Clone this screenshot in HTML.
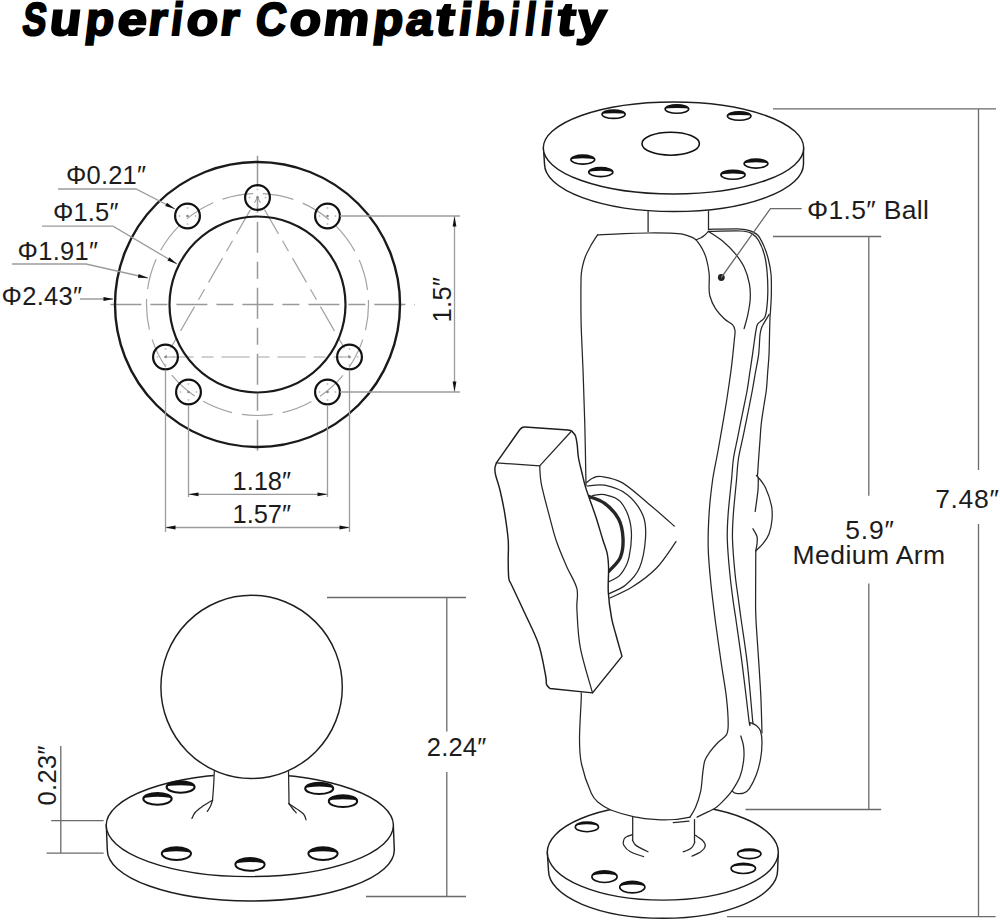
<!DOCTYPE html>
<html><head><meta charset="utf-8"><style>
html,body{margin:0;padding:0;background:#fff;}
#c{position:relative;width:1000px;height:921px;overflow:hidden;background:#fff;}
svg{position:absolute;left:0;top:0;}
text{font-family:"Liberation Sans",sans-serif;fill:#1c1c1c;}
.o{fill:none;stroke:#111;stroke-width:2;}
.t{fill:none;stroke:#262626;stroke-width:1.25;stroke-linecap:round;stroke-linejoin:round;}
.tf{fill:#fff;stroke:#1e1e1e;stroke-width:1.45;stroke-linejoin:round;}
.d{fill:none;stroke:#6a6a6a;stroke-width:1.3;}
.d2{fill:none;stroke:#9c9c9c;stroke-width:1.3;}
.cl{fill:none;stroke:#999;stroke-width:1.5;stroke-dasharray:31 11 12 11;}
.ds{fill:none;stroke:#a3a3a3;stroke-width:1.2;stroke-dasharray:14 8;}
.h{fill:#fff;stroke:#111;stroke-width:1.3;}
.hs{fill:none;stroke:#111;stroke-linecap:round;}
.ar{fill:#111;stroke:none;}
</style></head><body><div id="c">
<svg width="1000" height="921" viewBox="0 0 1000 921">

<g font-size="46" font-weight="bold" style="fill:#000;stroke:#000;stroke-width:2.2">
<text transform="translate(21.20 35.1) skewX(-7) scale(0.768 1)" style="fill:#000">S</text>
<text transform="translate(48.29 35.1) skewX(-7) scale(1.117 1)" style="fill:#000">u</text>
<text transform="translate(84.04 35.1) skewX(-7) scale(1.016 1)" style="fill:#000">p</text>
<text transform="translate(116.34 35.1) skewX(-7) scale(1.137 1)" style="fill:#000">e</text>
<text transform="translate(146.98 35.1) skewX(-7) scale(1.026 1)" style="fill:#000">r</text>
<text transform="translate(169.74 35.1) skewX(-7) scale(0.886 1)" style="fill:#000">i</text>
<text transform="translate(185.36 35.1) skewX(-7) scale(1.115 1)" style="fill:#000">o</text>
<text transform="translate(219.04 35.1) skewX(-7) scale(1.024 1)" style="fill:#000">r</text>
<text transform="translate(254.24 35.1) skewX(-7) scale(0.911 1)" style="fill:#000">C</text>
<text transform="translate(288.34 35.1) skewX(-7) scale(1.113 1)" style="fill:#000">o</text>
<text transform="translate(321.95 35.1) skewX(-7) scale(1.119 1)" style="fill:#000">m</text>
<text transform="translate(371.96 35.1) skewX(-7) scale(1.054 1)" style="fill:#000">p</text>
<text transform="translate(404.86 35.1) skewX(-7) scale(1.043 1)" style="fill:#000">a</text>
<text transform="translate(434.51 35.1) skewX(-7) scale(1.179 1)" style="fill:#000">t</text>
<text transform="translate(457.51 35.1) skewX(-7) scale(0.981 1)" style="fill:#000">i</text>
<text transform="translate(473.92 35.1) skewX(-7) scale(1.036 1)" style="fill:#000">b</text>
<text transform="translate(508.09 35.1) skewX(-7) scale(0.710 1)" style="fill:#000">i</text>
<text transform="translate(523.85 35.1) skewX(-7) scale(0.804 1)" style="fill:#000">l</text>
<text transform="translate(539.62 35.1) skewX(-7) scale(0.898 1)" style="fill:#000">i</text>
<text transform="translate(555.72 35.1) skewX(-7) scale(1.161 1)" style="fill:#000">t</text>
<text transform="translate(575.88 35.1) skewX(-7) scale(1.093 1)" style="fill:#000">y</text>
</g>
<g id="plate">
<line class="cl" x1="102" y1="304.5" x2="415" y2="304.5" style="stroke-dasharray:31 9 17 9;stroke-dashoffset:-8.4"/>
<line class="cl" x1="257.5" y1="148" x2="257.5" y2="453" style="stroke-dasharray:31 9 17 9;stroke-dashoffset:-7.7"/>
<circle class="ds" cx="257.5" cy="304.5" r="111" style="stroke-dasharray:31 10.02;stroke-dashoffset:5.24"/>
<line class="ds" x1="165.5" y1="357" x2="349.5" y2="357" style="stroke-dasharray:28 8 12 8"/>
<path class="ds" d="M257.5 197.5 L165.5 357 M257.5 197.5 L349.5 357" style="stroke-dasharray:28 8 12 8;stroke-dashoffset:-14"/>
<circle class="o" cx="257.5" cy="304.5" r="142.5" style="stroke-width:2.4;stroke:#1a1a1a"/>
<circle class="o" cx="257.5" cy="304.5" r="88" style="stroke-width:2.2;stroke:#1a1a1a"/>
<g class="o" style="stroke-width:2.2;fill:none">
<circle cx="257.5" cy="197.5" r="12.4"/>
<circle cx="187.5" cy="216.0" r="12.4"/>
<circle cx="327.5" cy="216.0" r="12.4"/>
<circle cx="165.5" cy="357.0" r="12.4"/>
<circle cx="349.5" cy="357.0" r="12.4"/>
<circle cx="188.5" cy="392.0" r="12.4"/>
<circle cx="327.5" cy="392.0" r="12.4"/>
</g>
<g fill="#888" stroke="none">
<circle cx="257.5" cy="197.5" r="1.3"/>
<rect x="256.7" y="188.7" width="1.6" height="1.6" fill="#bbb"/>
<rect x="256.7" y="204.7" width="1.6" height="1.6" fill="#bbb"/>
<rect x="248.7" y="196.7" width="1.6" height="1.6" fill="#bbb"/>
<rect x="264.7" y="196.7" width="1.6" height="1.6" fill="#bbb"/>
<circle cx="187.5" cy="216.0" r="1.3"/>
<rect x="186.7" y="207.2" width="1.6" height="1.6" fill="#bbb"/>
<rect x="186.7" y="223.2" width="1.6" height="1.6" fill="#bbb"/>
<rect x="178.7" y="215.2" width="1.6" height="1.6" fill="#bbb"/>
<rect x="194.7" y="215.2" width="1.6" height="1.6" fill="#bbb"/>
<circle cx="327.5" cy="216.0" r="1.3"/>
<rect x="326.7" y="207.2" width="1.6" height="1.6" fill="#bbb"/>
<rect x="326.7" y="223.2" width="1.6" height="1.6" fill="#bbb"/>
<rect x="318.7" y="215.2" width="1.6" height="1.6" fill="#bbb"/>
<rect x="334.7" y="215.2" width="1.6" height="1.6" fill="#bbb"/>
<circle cx="165.5" cy="357.0" r="1.3"/>
<rect x="164.7" y="348.2" width="1.6" height="1.6" fill="#bbb"/>
<rect x="164.7" y="364.2" width="1.6" height="1.6" fill="#bbb"/>
<rect x="156.7" y="356.2" width="1.6" height="1.6" fill="#bbb"/>
<rect x="172.7" y="356.2" width="1.6" height="1.6" fill="#bbb"/>
<circle cx="349.5" cy="357.0" r="1.3"/>
<rect x="348.7" y="348.2" width="1.6" height="1.6" fill="#bbb"/>
<rect x="348.7" y="364.2" width="1.6" height="1.6" fill="#bbb"/>
<rect x="340.7" y="356.2" width="1.6" height="1.6" fill="#bbb"/>
<rect x="356.7" y="356.2" width="1.6" height="1.6" fill="#bbb"/>
<circle cx="188.5" cy="392.0" r="1.3"/>
<rect x="187.7" y="383.2" width="1.6" height="1.6" fill="#bbb"/>
<rect x="187.7" y="399.2" width="1.6" height="1.6" fill="#bbb"/>
<rect x="179.7" y="391.2" width="1.6" height="1.6" fill="#bbb"/>
<rect x="195.7" y="391.2" width="1.6" height="1.6" fill="#bbb"/>
<circle cx="327.5" cy="392.0" r="1.3"/>
<rect x="326.7" y="383.2" width="1.6" height="1.6" fill="#bbb"/>
<rect x="326.7" y="399.2" width="1.6" height="1.6" fill="#bbb"/>
<rect x="318.7" y="391.2" width="1.6" height="1.6" fill="#bbb"/>
<rect x="334.7" y="391.2" width="1.6" height="1.6" fill="#bbb"/>
</g></g>
<g class="d2">
<path d="M340 216 H460 M340 392 H460 M454.5 216 V392"/>
<path d="M165.5 370 V532 M349.5 370 V532 M165.5 527.5 H349.5"/>
<path d="M188.5 405 V497 M327.5 405 V497 M188.5 494.3 H327.5"/>
<path d="M58 189 H136 L175 209"/>
<path d="M42 226.2 H113 L177 264"/>
<path d="M12 264 H86 L148 278"/>
<path d="M80 299 H113"/>
</g>
<g class="ar">
<path d="M454.5 216.5 L456.4 226.5 L452.6 226.5 Z"/>
<path d="M454.5 391.5 L452.6 381.5 L456.4 381.5 Z"/>
<path d="M165.5 527.5 L175.5 525.6 L175.5 529.4 Z"/>
<path d="M349.5 527.5 L339.5 529.4 L339.5 525.6 Z"/>
<path d="M188.5 494.3 L198.5 492.4 L198.5 496.2 Z"/>
<path d="M327.5 494.3 L317.5 496.2 L317.5 492.4 Z"/>
<path d="M175.0 209.0 L165.2 206.1 L167.0 202.7 Z"/>
<path d="M177.0 264.0 L167.4 260.6 L169.4 257.3 Z"/>
<path d="M148.0 278.0 L137.8 277.7 L138.7 273.9 Z"/>
<path d="M113.5 299.0 L103.5 300.9 L103.5 297.1 Z"/>
</g>
<g font-size="25.5">
<text x="66" y="184.3" textLength="80">Φ0.21″</text>
<text x="53" y="221.2" textLength="65.5">Φ1.5″</text>
<text x="17.5" y="260.2" textLength="80.5">Φ1.91″</text>
<text x="1.5" y="305" textLength="80.5">Φ2.43″</text>
<text x="232.5" y="489.5" textLength="58.5">1.18″</text>
<text x="232.5" y="523" textLength="58.5">1.57″</text>
<text transform="translate(450.5 322.5) rotate(-90)" textLength="45.5">1.5″</text>
</g>
<g id="ballbase">
<path class="tf" d="M106.3 825 L107.3 850 A143.5 51 0 0 0 394.3 850 L393.3 825 Z"/>
<ellipse class="tf" cx="249.8" cy="825.3" rx="143.6" ry="51.3"/>
<ellipse class="h" cx="180.6" cy="787.0" rx="14.0" ry="5.7" style="stroke-width:2.0"/><path fill="#111" d="M166.6 787.0 A14.0 5.7 0 0 1 194.6 787.0 A14.0 1.8 0 0 0 166.6 787.0 Z"/>
<ellipse class="h" cx="157.5" cy="798.8" rx="14.2" ry="5.9" style="stroke-width:2.0"/><path fill="#111" d="M143.3 798.8 A14.2 5.9 0 0 1 171.7 798.8 A14.2 2.0 0 0 0 143.3 798.8 Z"/>
<ellipse class="h" cx="319.2" cy="788.4" rx="14.0" ry="5.7" style="stroke-width:2.0"/><path fill="#111" d="M305.2 788.4 A14.0 5.7 0 0 1 333.2 788.4 A14.0 1.8 0 0 0 305.2 788.4 Z"/>
<ellipse class="h" cx="343.0" cy="801.2" rx="14.2" ry="5.9" style="stroke-width:2.0"/><path fill="#111" d="M328.8 801.2 A14.2 5.9 0 0 1 357.2 801.2 A14.2 2.0 0 0 0 328.8 801.2 Z"/>
<ellipse class="h" cx="176.4" cy="853.6" rx="14.6" ry="6.3" style="stroke-width:2.0"/><path fill="#111" d="M161.8 853.6 A14.6 6.3 0 0 1 191.0 853.6 A14.6 2.4 0 0 0 161.8 853.6 Z"/>
<ellipse class="h" cx="250.0" cy="864.4" rx="14.6" ry="6.3" style="stroke-width:2.0"/><path fill="#111" d="M235.4 864.4 A14.6 6.3 0 0 1 264.6 864.4 A14.6 2.4 0 0 0 235.4 864.4 Z"/>
<ellipse class="h" cx="323.0" cy="853.6" rx="14.6" ry="6.3" style="stroke-width:2.0"/><path fill="#111" d="M308.4 853.6 A14.6 6.3 0 0 1 337.6 853.6 A14.6 2.4 0 0 0 308.4 853.6 Z"/>
<path d="M214.3 766 L288.5 766 L289.2 804 L212.5 801 Z" fill="#fff"/>
<path class="t" d="M214.3 771 C214.2 773.5 213.9 781.1 213.6 786 C213.3 790.9 212.7 797.8 212.5 800.2"/>
<path class="t" d="M212.5 800.2 C210.9 801.2 205.8 804 203 806 C200.2 808 197.3 809.9 195.5 812 C193.7 814.1 192.5 817.3 191.9 818.4"/>
<path class="t" d="M212.5 800.2 C212.2 801.2 211.5 804.1 210.6 806 C209.7 807.9 207.9 810.5 207.3 811.4"/>
<path class="t" d="M288.5 771.5 C288.6 774.2 288.7 782.6 288.8 788 C288.9 793.4 289 801.1 289 803.7"/>
<path class="t" d="M289 803.7 C290.6 804.8 296 808.2 298.5 810 C301 811.8 302.8 812.9 304 814.5 C305.2 816.1 305.7 818.9 306 819.8"/>
<path class="t" d="M289 803.7 C289.6 804.5 291.3 807 292.5 808.5 C293.7 810 295.6 812.1 296.2 812.8"/>
<ellipse class="tf" cx="251.6" cy="686.9" rx="90.7" ry="91.6"/>
</g>
<g class="d">
<path d="M327 597.5 H466 M366 896.5 H466 M446.8 597.5 V731.5 M446.8 772 V896.5"/>
<path d="M51.2 820.7 H103.6 M46.6 853.1 H103.6 M60.8 746 V853.4"/>
</g>
<g font-size="25.5">
<text x="426.8" y="755.8" textLength="59.4">2.24″</text>
<text transform="translate(55.5 805.4) rotate(-90)" textLength="60">0.23″</text>
</g>
<g id="arm">
<path class="tf" d="M543.5 148 L544.5 164 A129.5 47.5 0 0 0 803.5 164 L803.5 148 Z"/>
<ellipse class="tf" cx="673.5" cy="148" rx="130.2" ry="46"/>
<ellipse class="h" cx="613.6" cy="114.2" rx="11.6" ry="4.2" style="stroke-width:1.6"/><path fill="#111" d="M602.0 114.2 A11.6 4.2 0 0 1 625.2 114.2 A11.6 1.0 0 0 0 602.0 114.2 Z"/>
<ellipse class="h" cx="676.9" cy="109.0" rx="11.8" ry="4.3" style="stroke-width:1.6"/><path fill="#111" d="M665.1 109.0 A11.8 4.3 0 0 1 688.7 109.0 A11.8 1.1 0 0 0 665.1 109.0 Z"/>
<ellipse class="h" cx="739.2" cy="116.0" rx="11.8" ry="4.3" style="stroke-width:1.6"/><path fill="#111" d="M727.4 116.0 A11.8 4.3 0 0 1 751.0 116.0 A11.8 1.1 0 0 0 727.4 116.0 Z"/>
<ellipse class="h" cx="582.8" cy="159.6" rx="11.9" ry="4.5" style="stroke-width:1.6"/><path fill="#111" d="M570.9 159.6 A11.9 4.5 0 0 1 594.7 159.6 A11.9 1.3 0 0 0 570.9 159.6 Z"/>
<ellipse class="h" cx="600.8" cy="172.1" rx="12.1" ry="4.5" style="stroke-width:1.6"/><path fill="#111" d="M588.7 172.1 A12.1 4.5 0 0 1 612.9 172.1 A12.1 1.3 0 0 0 588.7 172.1 Z"/>
<ellipse class="h" cx="756.0" cy="163.6" rx="11.9" ry="4.5" style="stroke-width:1.6"/><path fill="#111" d="M744.1 163.6 A11.9 4.5 0 0 1 767.9 163.6 A11.9 1.3 0 0 0 744.1 163.6 Z"/>
<ellipse class="h" cx="733.0" cy="174.8" rx="12.1" ry="4.5" style="stroke-width:1.6"/><path fill="#111" d="M720.9 174.8 A12.1 4.5 0 0 1 745.1 174.8 A12.1 1.3 0 0 0 720.9 174.8 Z"/>
<ellipse class="h" cx="670.7" cy="143.7" rx="28.7" ry="11.5" style="stroke-width:1.6"/>
<path class="t" d="M648.1 211.5 V232 M708.5 211 V231.5"/>
<path class="tf" d="M547.3 852.3 L548.5 870.5 A114.5 47.8 0 0 0 777.6 870.5 L778.3 852.3 Z"/>
<ellipse class="tf" cx="662.8" cy="852.3" rx="115.5" ry="47.8"/>
<ellipse class="h" cx="586.9" cy="826.9" rx="11.6" ry="4.8" style="stroke-width:1.6"/><path fill="#111" d="M575.3 826.9 A11.6 4.8 0 0 1 598.5 826.9 A11.6 2.6 0 0 0 575.3 826.9 Z"/>
<ellipse class="h" cx="604.5" cy="876.7" rx="12.6" ry="5.8" style="stroke-width:1.6"/><path fill="#111" d="M591.9 876.7 A12.6 5.8 0 0 1 617.1 876.7 A12.6 2.6 0 0 0 591.9 876.7 Z"/>
<ellipse class="h" cx="632.3" cy="887.1" rx="12.6" ry="5.8" style="stroke-width:1.6"/><path fill="#111" d="M619.7 887.1 A12.6 5.8 0 0 1 644.9 887.1 A12.6 2.6 0 0 0 619.7 887.1 Z"/>
<ellipse class="h" cx="749.3" cy="853.8" rx="11.7" ry="4.8" style="stroke-width:1.6"/><path fill="#111" d="M737.6 853.8 A11.7 4.8 0 0 1 761.0 853.8 A11.7 2.6 0 0 0 737.6 853.8 Z"/>
<ellipse class="h" cx="743.3" cy="868.4" rx="12.2" ry="5.1" style="stroke-width:1.6"/><path fill="#111" d="M731.1 868.4 A12.2 5.1 0 0 1 755.5 868.4 A12.2 2.9 0 0 0 731.1 868.4 Z"/>
<path class="tf" d="M632.7 816 L632.2 838.5 C636 846 641 849 646 851 L680 854.5 C688 852 693.5 847 694.8 842 L694.5 818 Z" style="stroke:none"/>
<path class="t" d="M632.7 816.5 V840 M694.5 819.5 V842.2"/>
<path class="t" d="M632.4 840 C632.8 840.8 633.9 843.3 635 844.5 C636.1 845.7 637 846.2 639.2 847.4 C641.4 848.6 646.5 851.1 648 851.8"/>
<path class="t" d="M694.8 842.2 C694.3 843.1 693.2 846.1 692 847.4 C690.8 848.7 689 849.5 687.5 850.2 C686 850.9 683.9 851.5 683.2 851.8"/>
<path class="t" d="M632.2 834.6 C631.2 835 627.9 835.9 626.5 836.8 C625.1 837.6 624.2 838.3 623.8 839.7 C623.3 841.1 622.7 843.2 623.8 845.2 C624.9 847.2 627.1 849.9 630.4 851.8 C633.7 853.7 641.4 855.8 643.6 856.6"/>
<path class="t" d="M695.3 835.3 C696.6 836.2 701.4 839 703 840.8 C704.6 842.6 705.6 844.5 705.2 846.3 C704.8 848.1 703 850.1 700.8 851.8 C698.6 853.4 693.5 855.5 692 856.2"/>
<path class="t" d="M673.3 822.7 L689 821.1"/>
<path d="M581.2 290 C581.2 272 581.8 271.5 583.2 263.8 C584.6 256.1 587.4 248.8 589.8 244 C592.2 239.2 588 236.8 597.5 234.8 C607 232.9 628.5 233.2 647 232.3 C665.5 231.4 691.5 229.7 708.4 229.4 C725.3 229.1 739.4 227.6 748.6 230.3 C757.8 233 760 238.4 763.8 245.8 C767.5 253.2 770 263.8 771.1 274.7 C772.2 285.6 771.1 298.4 770.5 311 C769.9 323.6 769.6 328.9 767.6 350 C765.6 371.1 760.2 416.5 758.3 437.4 C756.4 458.3 754.1 461.8 756.4 475.5 C758.7 489.2 772.1 507.2 772 519.7 C771.9 532.2 758.5 537.3 755.8 550.8 C753.1 564.3 755.1 572.3 755.9 600.9 C756.7 629.5 759.4 699 760.4 722.6 C761.4 746.2 762.7 733.6 762 742.3 C761.3 751 759.4 766.3 756.3 774.8 C753.2 783.3 747.6 790.4 743.6 793.1 C739.6 795.8 735.6 789.8 732.3 791 C729 792.2 726.7 797.4 723.9 800.2 C721.1 803 718.7 805.7 715.4 807.9 C712.1 810.1 708.3 812.1 704.1 813.6 C699.9 815.1 697.7 816.1 690 817.1 C682.3 818.1 667 819.8 657.7 819.7 C648.4 819.7 642.1 818.4 634.3 816.8 C626.5 815.2 616.7 812.3 610.8 810 C604.9 807.7 602.4 805.9 599.1 803.1 C595.9 800.3 594.2 799.8 591.3 793.3 C588.4 786.8 583.5 773.1 581.5 764 C579.5 754.9 579.5 750.4 579.5 738.6 C579.5 726.8 580.1 735.1 581.2 693 C582.3 650.9 585.7 539.5 586 486 C586.3 432.5 583.9 404.7 583.1 372 C582.3 339.3 581.2 308 581.2 290Z" fill="#fff" stroke="none"/>
<path class="t" d="M586 486 C585.8 475.7 585.3 443 584.8 424 C584.3 405 583.7 387.7 583.1 372 C582.5 356.3 581.7 342 581.3 330 C580.9 318 580.9 308.9 580.9 300 C580.9 291.1 580.9 282 581.1 276.5 C581.4 271 581.7 270.2 582.4 266.9 C583.1 263.6 584 260 585.4 256.5 C586.8 253 588.6 249.6 590.6 246 C592.6 242.4 596.4 236.7 597.6 234.8"/>
<path class="t" d="M597.6 234.8 C601.9 234.6 615.2 233.9 623.6 233.6 C632 233.3 640.3 233.1 648 233 C655.7 232.9 664.1 233 670 233.2 C675.9 233.4 679.7 233.6 683.4 234.3 C687.1 235 690 236.5 692.1 237.4 C694.2 238.3 695.6 239.6 696.3 240"/>
<path class="t" d="M696.5 239.6 C697.2 239.3 699.1 238.7 700.5 238 C701.9 237.3 703.3 236.3 704.6 235.2 C705.9 234.1 707.8 232 708.4 231.4"/>
<path class="t" d="M696.3 240 C697.2 241.4 700.4 245.4 702 248.4 C703.6 251.4 704.9 253.8 706.1 257.9 C707.3 262 708.6 268.4 709.1 273.2 C709.6 278 709 283.1 709.1 286.9 C709.2 290.7 708.9 292.4 709.9 296 C710.9 299.6 712.8 304.4 715.2 308.2 C717.6 312 721.4 316 724.3 318.8 C727.2 321.6 730.9 322.9 732.7 324.9 C734.5 326.8 734.7 328 735 330.5 C735.3 333 734.7 335.9 734.3 340 C733.9 344.1 733.4 349.6 732.8 355 C732.2 360.4 731.7 365.4 730.8 372.1 C729.9 378.8 728.6 387.5 727.5 395 C726.4 402.5 725.5 407.7 723.9 417.2 C722.3 426.7 719.7 441.5 717.8 452 C715.9 462.5 714 469.8 712.6 480 C711.2 490.2 709.8 502 709.1 513.4 C708.4 524.8 707.9 536.5 708.2 548.1 C708.5 559.7 709.6 570.8 710.8 582.8 C712 594.8 713.5 606.6 715.2 620 C717 633.4 719.4 650.4 721.3 663.4 C723.2 676.4 725.4 688 726.5 698.1 C727.6 708.2 728.2 718.1 728.2 724.2 C728.2 730.3 728.2 731.6 726.5 734.6 C724.8 737.6 721 739.4 718.2 742.3 C715.4 745.2 711.9 749.1 709.7 752.2 C707.5 755.3 706 757.2 704.8 760.7 C703.6 764.2 703.4 768.2 702.7 773.4 C702 778.6 701.8 786.1 700.6 791.7 C699.4 797.3 697.4 803 695.6 807.2 C693.8 811.4 690.9 815.5 690 817.1"/>
<path class="t" d="M690 817.1 C687.5 817.5 680.4 819.1 675 819.5 C669.6 819.9 664.5 820.2 657.7 819.7 C650.9 819.2 642.1 818.4 634.3 816.8 C626.5 815.2 616.7 812.3 610.8 810 C604.9 807.7 602.4 805.9 599.1 803.1 C595.9 800.3 594.2 799.8 591.3 793.3 C588.4 786.8 583.5 773.1 581.5 764 C579.5 754.9 579.5 749.3 579.5 738.6 C579.5 727.9 580.9 707.6 581.2 700 C581.5 692.4 581.2 694.1 581.2 692.9"/>
<path class="t" d="M708.4 231.4 C710.8 233.1 718.4 237.6 722.8 241.3 C727.2 245 731.5 249.1 735 253.4 C738.5 257.7 741.7 262 744.1 267.1 C746.5 272.2 748.4 278.5 749.4 283.8 C750.4 289.1 750.5 293.9 750.2 299 C750 304.1 748.9 309.4 747.9 314.3 C746.9 319.2 744.7 326.3 744.1 328.7"/>
<path class="t" d="M708.4 229.4 C713.1 229.3 729.8 228.7 736.5 228.8 C743.2 229 745.1 229.2 748.6 230.3 C752.1 231.4 755.3 232.6 757.8 235.2 C760.3 237.8 762 241.8 763.8 245.8 C765.6 249.9 767.2 254.7 768.4 259.5 C769.6 264.3 770.6 268.6 771.1 274.7 C771.6 280.8 771.4 289.9 771.3 296 C771.2 302.1 770.7 307 770.5 311 C770.3 315 770.1 312.7 769.9 320 C769.6 327.3 769.4 346 769 354.7 C768.6 363.4 768.1 366.2 767.7 372 C767.3 377.8 767 384 766.4 389.5 C765.8 395 764.9 399.2 764 405 C763.1 410.8 761.8 418.8 761.2 424.2 C760.6 429.6 760.6 431.6 760.2 437.4 C759.8 443.2 759 453.1 758.6 459 C758.2 464.9 757.9 470.1 757.7 472.9 C757.5 475.7 757.5 475.5 757.4 476"/>
<path class="t" d="M755.8 550.8 C755.8 554 755.7 561.8 755.7 570 C755.7 578.2 755.6 591.7 755.6 600 C755.6 608.3 755.4 608 756 620 C756.6 632 758.6 658.7 759.4 672 C760.2 685.3 760.6 689.8 761 700 C761.4 710.2 761.8 727.5 762 733"/>
<path class="t" d="M708.4 231.4 C713.8 231.3 733.8 230.7 741 231 C748.2 231.3 748.6 231.8 751.5 233.4 C754.4 235 756.4 236.8 758.6 240.5 C760.8 244.2 763.2 250.1 764.6 255.5 C766 260.9 766.7 266.9 767.2 273.2 C767.7 279.4 767.9 287.2 767.8 293 C767.7 298.8 767.3 304.1 766.8 308.2 C766.3 312.2 765.9 315 764.8 317.3 C763.7 319.6 761.3 320.5 760 321.9 C758.7 323.3 757.9 322.5 757 325.5 C756.1 328.5 755.2 335.1 754.5 340 C753.8 344.9 753.3 349.4 752.5 354.7 C751.7 360 750.8 366.2 749.9 372 C749 377.8 748.2 384 747.3 389.5 C746.3 395 745.4 399.2 744.2 405 C743 410.8 741.4 418.8 740.3 424.2 C739.2 429.6 738.9 431.6 737.7 437.4 C736.6 443.2 734.4 451.9 733.4 459 C732.4 466.1 732.4 470.9 731.5 480 C730.6 489.1 728.9 503.5 728.2 513.4 C727.5 523.3 727 529.4 727.3 539.5 C727.6 549.6 728.9 564.1 729.9 574.2 C730.9 584.3 732 592.4 733 600 C734 607.6 734.5 609.4 736 620 C737.5 630.6 739.9 646.6 742.1 663.4 C744.3 680.2 747.7 710.8 749 720.7 C750.3 730.6 749.8 722.3 750 722.6"/>
<path class="t" d="M769.2 314.3 C768.3 315.8 765.1 321.1 763.8 323.4 C762.5 325.7 762.1 326.1 761.5 328 C760.9 329.9 760.5 330.6 760 335 C759.5 339.4 759.4 348.5 758.6 354.7 C757.9 360.9 756.5 366.2 755.5 372 C754.5 377.8 753.5 384 752.5 389.5 C751.5 395 750.6 399.2 749.5 405 C748.4 410.8 746.7 418.8 745.6 424.2 C744.5 429.6 744.1 431.6 742.9 437.4 C741.7 443.2 739.5 451.9 738.4 459 C737.3 466.1 737.3 470.9 736.5 480 C735.7 489.1 734.1 503.5 733.4 513.4 C732.7 523.3 732.2 529.4 732.5 539.5 C732.8 549.6 734.1 564.1 735.1 574.2 C736.1 584.3 737.5 592.4 738.5 600 C739.5 607.6 739.7 609.4 741.2 620 C742.7 630.6 745.4 646.9 747.3 663.4 C749.2 679.9 751.6 709.4 752.5 719 C753.4 728.6 752.8 720.8 752.8 721.2"/>
<path class="t" d="M756.4 475.5 C756.7 475.8 756.7 475.3 758.2 477.3 C759.7 479.3 763.2 482.8 765.4 487.5 C767.6 492.2 770.3 500 771.4 505.4 C772.5 510.8 772.4 514.9 772 519.7 C771.6 524.5 770.5 530 769 534 C767.5 538 765.2 540.8 763 543.6 C760.8 546.4 757 549.6 755.8 550.8"/>
<path class="t" d="M758.2 477.3 C758.2 479.4 758.5 484.2 758 489.9 C757.5 495.6 755.7 507.8 755.2 511.4"/>
<path class="t" d="M752.9 528.7 C753.6 530 756.3 534 757 536.5 C757.7 539 757.2 541.2 757 543.6 C756.8 546 756 549.6 755.8 550.8"/>
<path class="t" d="M750 722.6 C751 723.1 754.5 724 756.3 725.4 C758 726.8 759.5 728.2 760.5 731 C761.5 733.8 762 737.6 762 742.3 C762 747 761.5 753.8 760.5 759.2 C759.5 764.6 758.2 769.8 756.3 774.8 C754.4 779.8 751.3 785.8 749.2 788.9 C747.1 792 746 792.4 743.6 793.1 C741.2 793.8 737 793.5 735.1 793.1 C733.2 792.8 732.8 791.4 732.3 791"/>
<path class="t" d="M740.8 736 C741.3 737.8 743.1 742.5 743.6 746.6 C744.1 750.7 744.2 755.8 743.6 760.7 C743 765.6 742 771.3 740.1 776.2 C738.2 781.1 735 786.3 732.3 790.3 C729.6 794.3 726.7 797.3 723.9 800.2 C721.1 803.1 718.7 805.7 715.4 807.9 C712.1 810.1 707.1 812.1 704.1 813.6 C701.1 815.1 698.3 816.5 697.1 817.1"/>
<path class="t" d="M586.5 482.6 C587.6 481.8 590.5 479 593 478 C595.5 477 596.4 475.7 601.3 476.5 C606.1 477.3 614.3 478.1 622.1 482.6 C629.9 487.1 639.5 496.2 648.2 503.4 C656.9 510.6 669.9 522.2 674.2 526"/>
<path class="t" d="M676 541.6 C672.8 546 664 560.2 656.8 567.7 C649.5 575.2 640.3 581.8 632.5 586.8 C624.7 591.8 613.8 596.1 610 598"/>
<path class="t" d="M587.4 486 C590.3 485.9 598.1 483.8 604.7 485.2 C611.4 486.6 620.9 489.6 627.3 494.7 C633.7 499.8 640 508.4 643 515.6 C646 522.9 646.1 529.5 645.5 538.2 C644.9 546.9 642.8 559.9 639.5 567.7 C636.2 575.5 630.7 580.7 625.6 585 C620.5 589.3 611.8 592.2 609 593.7"/>
<path class="t" d="M592.6 495.6 C594.6 495.5 600.1 493.7 604.7 494.7 C609.3 495.7 616 496.5 620.4 501.7 C624.8 506.9 629.4 516.7 630.8 526 C632.2 535.3 630.7 549.2 629 557.3 C627.3 565.4 623.7 570.5 620.4 574.6 C617.1 578.7 610.9 580.4 609 581.6"/>
<path class="t" style="stroke-width:3.4" d="M589.1 496.5 C591.7 497.6 599.8 499.6 604.7 503.4 C609.6 507.1 615.6 513.2 618.6 519 C621.6 524.8 622.7 531.8 623 538.2 C623.3 544.6 622.7 551.8 620.4 557.3 C618.1 562.8 610.9 568.8 609 571.1"/>
<path class="tf" d="M571.6 431 C572.2 431.8 574.6 433.7 575.5 436 C576.4 438.3 576.7 441.3 577.2 445 C577.7 448.7 577.7 453.3 578.5 458 C579.3 462.7 580.9 468.3 582 473 C583.1 477.7 583.8 481.4 585.3 486.4 C586.8 491.4 589.2 497.9 591 503 C592.8 508.1 594 511.1 596 517.3 C598 523.5 601 533.9 602.9 540 C604.8 546.1 606.3 549.2 607.3 553.8 C608.2 558.4 608.4 561.3 608.6 567.7 C608.8 574.1 607.8 583.7 608.3 592.1 C608.8 600.5 610.3 611.1 611.6 618.2 C612.9 625.4 614.3 628.6 616 635 C617.7 641.4 621 652.8 622 656.4 L592.5 692.9 L550 688.5 C549.4 687.8 547.2 686.4 546.5 684.2 C545.8 682 546.9 682.2 545.6 675.5 C544.3 668.8 542.1 654.6 538.6 644.2 C535.1 633.8 529.2 622.8 524.7 613 C520.2 603.2 514.4 591 511.7 585.2 C509 579.4 509.4 582.4 508.8 578.2 C508.2 574 508.3 566.4 508.2 560 C508.1 553.6 508.8 547.7 508.2 540 C507.6 532.3 506.1 522 504.8 513.8 C503.5 505.6 501.7 497.5 500.2 491 C498.7 484.5 496.5 478.8 495.6 475 C494.7 471.2 494.8 470.2 494.9 468.2 C495 466.2 496.1 463.8 496.4 462.9 L519.5 430 Q521.5 426.8 525 427 L568 430 Q571 430.5 571.6 431 Z"/>
<path class="t" d="M496.4 462.9 L539.7 465.9 L571.6 431"/>
<path class="t" d="M539.7 465.9 C540 468.8 539.7 475.4 541.2 483.4 C542.7 491.4 546.3 504.4 548.8 513.8 C551.3 523.2 553.1 531.3 556 540 C558.9 548.7 562.9 557.9 566.4 566 C569.9 574.1 575.1 581.4 576.9 588.6 C578.6 595.9 576.3 599.6 576.9 609.5 C577.5 619.4 577.7 633.8 580.3 647.7 C582.9 661.6 590.5 685.4 592.5 692.9"/>
<circle cx="721.3" cy="277.5" r="3.4" fill="#222"/>
</g>
<g class="d">
<path d="M773 108.8 H996 M978.5 108.8 V470 M978.5 524 V916.7 M727 916.7 H995.6"/>
<path d="M773 236.5 H881.2 M868.8 236.5 V495.7 M868.8 583.5 V809.5 M745.5 809.5 H881.2"/>
<path d="M801.7 208.6 H770.4 L721.3 277.5"/>
</g>
<g font-size="26.5">
<text x="935.2" y="508.4" textLength="63.6">7.48″</text>
<text x="845.2" y="539.2" textLength="48.6">5.9″</text>
<text x="792.6" y="564.4" textLength="152.6">Medium Arm</text>
<text x="806.9" y="219" textLength="122">Φ1.5″ Ball</text>
</g>
</svg>
</div></body></html>
